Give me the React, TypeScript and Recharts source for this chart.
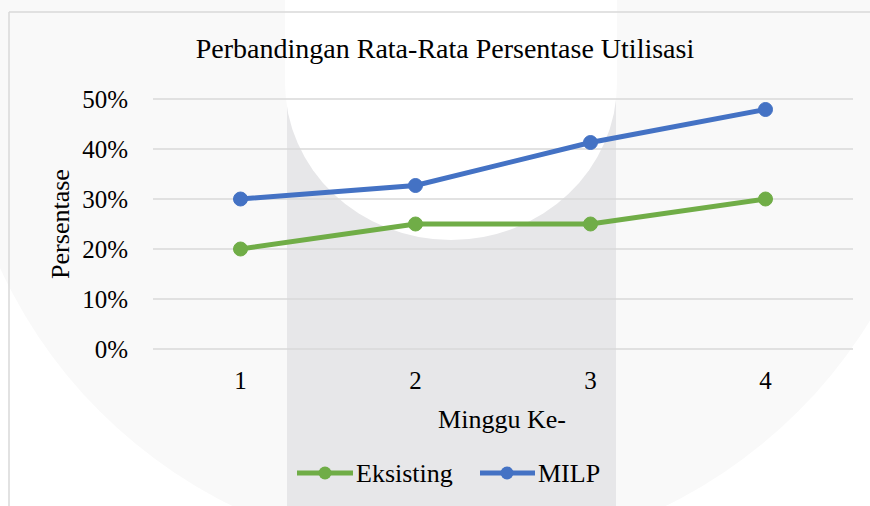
import React from 'react';
import { LineChart, Line, XAxis, YAxis, CartesianGrid } from 'recharts';

const categories = ['1', '2', '3', '4'];
const eksisting = [0.2, 0.25, 0.25, 0.3];
const milp = [0.3, 0.327, 0.413, 0.479];
const yTicks = [0, 0.1, 0.2, 0.3, 0.4, 0.5];

const title = 'Perbandingan Rata-Rata Persentase Utilisasi';
const xTitle = 'Minggu Ke-';
const yTitle = 'Persentase';
const seriesNames = ['Eksisting', 'MILP'];

const GREEN = '#70AD47';
const BLUE = '#4472C4';
const FONT = '"Liberation Serif", "Times New Roman", serif';

const data = categories.map((c, i) => ({ week: c, eksisting: eksisting[i], milp: milp[i] }));

const W = 870;
const H = 506;

export default function App() {
  return (
    <div style={{ position: 'absolute', left: 0, top: 0, width: W, height: H, overflow: 'hidden', background: '#ffffff' }}>
      <svg width={W} height={H} style={{ position: 'absolute', left: 0, top: 0 }}>
        <rect x={0} y={0} width={W} height={H} fill="#ffffff" />
        <circle cx={449} cy={62} r={494} fill="#f9f9f9" />
        <rect x={287} y={0} width={329} height={H} fill="#e7e7e9" />
        <path d="M 285 0 L 285 83 A 166 157 0 0 0 617 83 L 617 0 Z" fill="#ffffff" />
        <line x1={9} y1={12} x2={W} y2={12} stroke="#d9d9d9" strokeWidth={1.5} />
        <line x1={9} y1={12} x2={9} y2={H} stroke="#d9d9d9" strokeWidth={1.5} />
      </svg>
      <div style={{ position: 'absolute', left: 0, top: 0 }}>
        <LineChart width={W} height={H} data={data} margin={{ top: 99, right: 17, left: 83, bottom: 127 }}>
          <CartesianGrid vertical={false} stroke="#d9d9d9" strokeWidth={1.5} />
          <XAxis
            dataKey="week"
            axisLine={false}
            tickLine={false}
            tickSize={0}
            tickMargin={22}
            height={30}
            padding={{ left: 87.5, right: 87.5 }}
            tick={{ fill: '#000000', fontSize: 25, fontFamily: FONT }}
          />
          <YAxis
            domain={[0, 0.5]}
            ticks={yTicks}
            width={70}
            axisLine={false}
            tickLine={false}
            tickSize={0}
            tickMargin={25}
            tickFormatter={(v: number) => `${Math.round(v * 100)}%`}
            tick={{ fill: '#000000', fontSize: 25, fontFamily: FONT }}
          />
          <Line
            type="linear"
            dataKey="eksisting"
            name={seriesNames[0]}
            stroke={GREEN}
            strokeWidth={5}
            dot={{ r: 7, fill: GREEN, stroke: GREEN, strokeWidth: 1 }}
            isAnimationActive={false}
          />
          <Line
            type="linear"
            dataKey="milp"
            name={seriesNames[1]}
            stroke={BLUE}
            strokeWidth={5}
            dot={{ r: 7, fill: BLUE, stroke: BLUE, strokeWidth: 1 }}
            isAnimationActive={false}
          />
        </LineChart>
      </div>
      <svg width={W} height={H} style={{ position: 'absolute', left: 0, top: 0, pointerEvents: 'none' }}>
        <text x={445} y={58} textAnchor="middle" fontFamily={FONT} fontSize={28} fill="#000000">{title}</text>
        <text transform="translate(69,224) rotate(-90)" textAnchor="middle" fontFamily={FONT} fontSize={26} fill="#000000">{yTitle}</text>
        <text x={502} y={428} textAnchor="middle" fontFamily={FONT} fontSize={26} fill="#000000">{xTitle}</text>
        <g>
          <line x1={297} y1={473} x2={353} y2={473} stroke={GREEN} strokeWidth={5} />
          <circle cx={325} cy={473} r={6.5} fill={GREEN} />
          <text x={356} y={482} fontFamily={FONT} fontSize={26} fill="#000000">{seriesNames[0]}</text>
          <line x1={480} y1={473} x2={535} y2={473} stroke={BLUE} strokeWidth={5} />
          <circle cx={507} cy={473} r={6.5} fill={BLUE} />
          <text x={538} y={482} fontFamily={FONT} fontSize={26} fill="#000000">{seriesNames[1]}</text>
        </g>
      </svg>
    </div>
  );
}
